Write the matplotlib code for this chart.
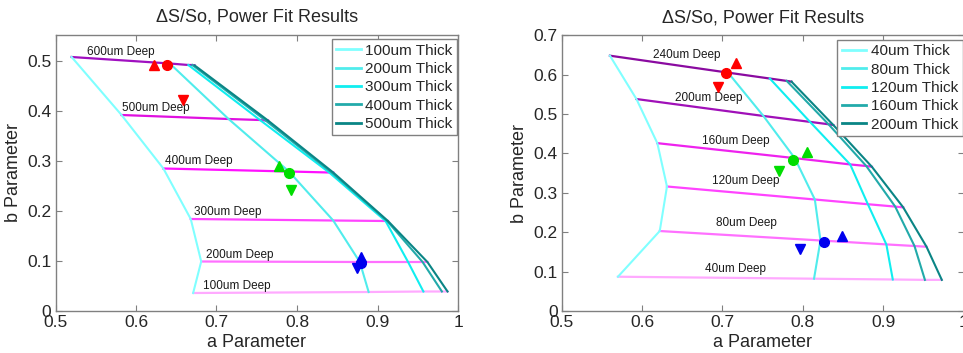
import matplotlib
matplotlib.use("Agg")
import matplotlib.pyplot as plt
import numpy as np

plt.rcParams['font.family'] = ['Liberation Sans', 'DejaVu Sans']

# ---------------- Left chart data ----------------
L_depths = ["600um Deep", "500um Deep", "400um Deep", "300um Deep", "200um Deep", "100um Deep"]
L_thick = ["100um Thick", "200um Thick", "300um Thick", "400um Thick", "500um Thick"]
# rows: depth, cols: thickness
L_a = [
    [0.520, 0.642, 0.665, 0.670, 0.673],
    [0.582, 0.715, 0.754, 0.761, 0.764],
    [0.634, 0.790, 0.840, 0.843, 0.845],
    [0.668, 0.845, 0.910, 0.912, 0.913],
    [0.681, 0.878, 0.938, 0.956, 0.962],
    [0.671, 0.889, 0.957, 0.980, 0.987],
]
L_b = [
    [0.508, 0.495, 0.492, 0.492, 0.491],
    [0.392, 0.384, 0.382, 0.381, 0.381],
    [0.285, 0.279, 0.277, 0.277, 0.277],
    [0.184, 0.181, 0.180, 0.180, 0.180],
    [0.099, 0.098, 0.098, 0.098, 0.098],
    [0.036, 0.038, 0.039, 0.039, 0.039],
]
L_label_a = [0.539, 0.583, 0.636, 0.672, 0.687, 0.683]
L_label_b = [0.518, 0.405, 0.300, 0.197, 0.112, 0.049]

# markers: (a, b) per colour group
L_up_a = [0.622, 0.778, 0.879]
L_up_b = [0.493, 0.291, 0.108]
L_circ_a = [0.638, 0.790, 0.880]
L_circ_b = [0.493, 0.277, 0.096]
L_down_a = [0.659, 0.793, 0.875]
L_down_b = [0.422, 0.243, 0.087]

# ---------------- Right chart data ----------------
R_depths = ["240um Deep", "200um Deep", "160um Deep", "120um Deep", "80um Deep", "40um Deep"]
R_thick = ["40um Thick", "80um Thick", "120um Thick", "160um Thick", "200um Thick"]
R_a = [
    [0.560, 0.707, 0.759, 0.780, 0.786],
    [0.593, 0.751, 0.809, 0.832, 0.838],
    [0.619, 0.790, 0.859, 0.879, 0.886],
    [0.631, 0.815, 0.881, 0.915, 0.925],
    [0.622, 0.822, 0.904, 0.939, 0.954],
    [0.570, 0.814, 0.912, 0.952, 0.973],
]
R_b = [
    [0.648, 0.605, 0.590, 0.584, 0.582],
    [0.538, 0.495, 0.480, 0.474, 0.472],
    [0.426, 0.388, 0.372, 0.368, 0.366],
    [0.316, 0.283, 0.271, 0.265, 0.263],
    [0.203, 0.179, 0.169, 0.165, 0.163],
    [0.087, 0.082, 0.080, 0.079, 0.079],
]
R_label_a = [0.613, 0.641, 0.674, 0.687, 0.692, 0.678]
R_label_b = [0.651, 0.540, 0.432, 0.331, 0.223, 0.107]

R_up_a = [0.717, 0.805, 0.849]
R_up_b = [0.629, 0.404, 0.191]
R_circ_a = [0.705, 0.788, 0.827]
R_circ_b = [0.603, 0.383, 0.176]
R_down_a = [0.694, 0.770, 0.797]
R_down_b = [0.568, 0.356, 0.157]

marker_colors = ['#ff0000', '#00dd00', '#0000ee']

thick_colors = ['#80ffff', '#50ecec', '#10eef0', '#22aaaa', '#0a8585']
L_depth_colors = ['#a010c0', '#e010e0', '#ff10ff', '#ff44ff', '#ff70ff', '#ffaaff']
R_depth_colors = ['#8a0aa0', '#a010b8', '#ee22ee', '#ff44ff', '#ff70ff', '#ffaaff']

FIG_W, FIG_H = 963, 353
fig = plt.figure(figsize=(FIG_W / 100, FIG_H / 100), dpi=100)

def px_axes(x0, x1, ytop, ybot):
    return fig.add_axes([x0 / FIG_W, 1 - ybot / FIG_H, (x1 - x0) / FIG_W, (ybot - ytop) / FIG_H])

axL = px_axes(55.5, 458, 34.5, 311)
axR = px_axes(561.7, 963.5, 35.2, 311)

text_col = '#262626'
spine_col = '#808080'

def draw(ax, A, B, depth_labels, thick_labels, la, lb, dcols, ylim, yticks,
         up_a, up_b, c_a, c_b, dn_a, dn_b):
    A = np.array(A)
    B = np.array(B)
    handles = []
    for j in range(A.shape[1]):
        h, = ax.plot(A[:, j], B[:, j], color=thick_colors[j], lw=1.5, label=thick_labels[j],
                     zorder=2 + j * 0.01)
        handles.append(h)
    for i in range(A.shape[0]):
        ax.plot(A[i, :], B[i, :], color=dcols[i], lw=1.6, zorder=1.9)
        ax.text(la[i], lb[i], depth_labels[i], fontsize=8.5, color='#1a1a1a',
                ha='left', va='center', zorder=4)
    for k in range(3):
        ax.plot(up_a[k], up_b[k], marker='^', color=marker_colors[k], ms=7, ls='none', zorder=5)
        ax.plot(c_a[k], c_b[k], marker='o', color=marker_colors[k], ms=7, ls='none', zorder=5)
        ax.plot(dn_a[k], dn_b[k], marker='v', color=marker_colors[k], ms=7, ls='none', zorder=5)
    ax.set_xlim(0.5, 1.0)
    ax.set_ylim(*ylim)
    ax.set_xticks([0.5, 0.6, 0.7, 0.8, 0.9, 1.0])
    ax.set_xticklabels(['0.5', '0.6', '0.7', '0.8', '0.9', '1'])
    ax.set_yticks(yticks)
    ax.set_yticklabels(['0' if v == 0 else f'{v:.1f}' for v in yticks])
    ax.tick_params(direction='in', length=4, width=0.8, top=True, right=True,
                   labelsize=12.5, colors=spine_col, labelcolor=text_col, pad=3)
    for s in ax.spines.values():
        s.set_color(spine_col)
        s.set_linewidth(1.0)
    ax.set_xlabel('a Parameter', fontsize=13, color=text_col, labelpad=2.5)
    ax.set_ylabel('b Parameter', fontsize=13, color=text_col, labelpad=4)
    ax.set_title('\u0394S/So, Power Fit Results', fontsize=13, color=text_col, pad=9)
    leg = ax.legend(handles=handles, loc='upper right', bbox_to_anchor=(0.998, 0.983),
                    borderaxespad=0, fontsize=11, handlelength=1.6, handletextpad=0.3,
                    labelspacing=0.28, borderpad=0.3, fancybox=False, framealpha=1,
                    edgecolor=spine_col)
    leg.get_frame().set_linewidth(1.0)
    for t in leg.get_texts():
        t.set_color(text_col)
    for l in leg.get_lines():
        l.set_linewidth(2)

draw(axL, L_a, L_b, L_depths, L_thick, L_label_a, L_label_b, L_depth_colors,
     (0, 0.553), [0, 0.1, 0.2, 0.3, 0.4, 0.5],
     L_up_a, L_up_b, L_circ_a, L_circ_b, L_down_a, L_down_b)
draw(axR, R_a, R_b, R_depths, R_thick, R_label_a, R_label_b, R_depth_colors,
     (0, 0.7), [0, 0.1, 0.2, 0.3, 0.4, 0.5, 0.6, 0.7],
     R_up_a, R_up_b, R_circ_a, R_circ_b, R_down_a, R_down_b)

fig.savefig('out.png', dpi=100)
